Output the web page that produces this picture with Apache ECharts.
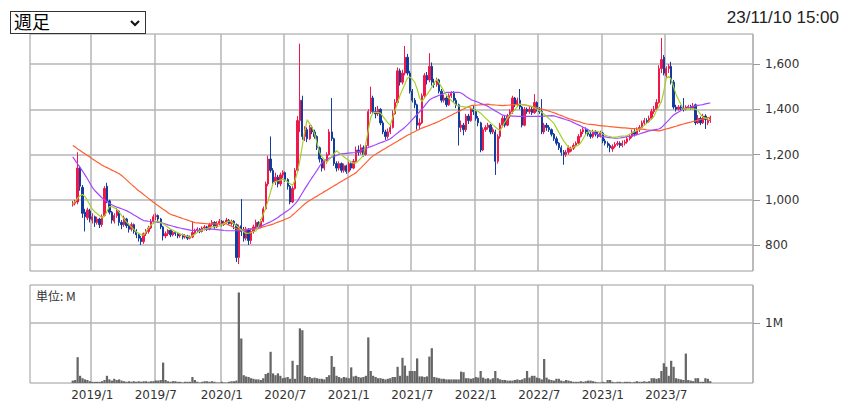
<!DOCTYPE html>
<html>
<head>
<meta charset="utf-8">
<script src="https://cdn.jsdelivr.net/npm/echarts@6/dist/echarts.min.js"></script>
<style>
  html, body { margin:0; padding:0; background:#fff; }
  #wrap { position:relative; width:851px; height:401px; overflow:hidden; }
  #chart { position:absolute; left:0; top:0; width:851px; height:401px; }
  #period { position:absolute; left:10px; top:11px; width:136px; height:23px; box-sizing:border-box;
    border:1px solid #333; background:#fff; z-index:2; }
  #period span { position:absolute; left:3px; top:0; font-size:18px; line-height:19px;
    font-family:"Noto Sans CJK JP", sans-serif; color:#000; }
  #period svg { position:absolute; left:118px; top:6px; }
  #stamp { position:absolute; right:12px; top:8px; font-size:17px; font-family:"Liberation Sans", Arial, sans-serif;
    color:#222; z-index:2; }
</style>
</head>
<body>
<div id="wrap">
  <div id="chart"></div>
  <div id="period"><span>週足</span><svg width="12" height="10" viewBox="0 0 12 10"><polyline points="2,3 6,7 10,3" fill="none" stroke="#111" stroke-width="2"/></svg></div>
  <div id="stamp">23/11/10 15:00</div>
</div>
<script>
// ---- weekly candles, first week = week of 2018/11/05 ----
const opens = [
980,985,990,1140,1055,945,920,950,910,925,
900,915,890,930,1060,995,945,905,930,950,
900,890,915,885,870,890,860,845,830,815,
850,860,875,905,925,930,915,880,840,850,
865,845,855,850,840,845,835,840,830,835,
855,865,870,860,875,880,870,890,900,880,
895,905,890,900,910,895,905,890,745,885,
860,830,870,820,860,880,900,880,905,960,
1070,1180,1130,1080,1100,1070,1110,1120,1090,1060,
990,1050,1130,1350,1440,1280,1310,1270,1320,1300,
1280,1230,1180,1140,1170,1200,1300,1270,1160,1140,
1160,1130,1150,1125,1160,1140,1170,1220,1210,1230,
1200,1240,1390,1450,1390,1380,1400,1340,1300,1280,
1300,1320,1380,1430,1570,1520,1560,1630,1560,1480,
1440,1420,1330,1340,1460,1550,1530,1590,1520,1510,
1530,1480,1440,1450,1420,1460,1470,1440,1420,1320,
1330,1310,1370,1350,1400,1390,1360,1340,1220,1310,
1320,1330,1300,1300,1170,1280,1330,1360,1330,1370,
1390,1450,1420,1440,1410,1330,1400,1390,1400,1385,
1430,1400,1390,1300,1330,1320,1310,1290,1270,1250,
1230,1210,1200,1210,1215,1228,1240,1250,1280,1300,
1310,1300,1290,1280,1300,1290,1280,1295,1260,1250,
1240,1225,1235,1245,1250,1240,1250,1255,1270,1280,
1300,1290,1310,1320,1340,1350,1345,1360,1390,1400,
1430,1580,1630,1550,1580,1590,1520,1410,1400,1410,
1405,1400,1405,1412,1405,1420,1340,1360,1340,1370,
1340,1350];
const closes = [
985,990,1140,1060,940,925,955,915,925,900,
915,890,925,1050,995,945,910,930,950,900,
890,920,885,870,890,860,845,830,815,850,
860,875,905,925,930,915,880,840,850,865,
845,855,850,840,845,835,840,830,835,855,
865,870,860,875,880,870,890,900,880,895,
905,890,900,910,895,905,890,745,880,860,
830,870,820,860,880,900,880,905,960,1070,
1180,1130,1080,1100,1070,1110,1120,1090,1060,990,
1050,1130,1350,1440,1280,1310,1270,1320,1300,1280,
1230,1180,1140,1170,1200,1300,1270,1160,1140,1160,
1130,1150,1125,1160,1140,1170,1220,1210,1230,1200,
1240,1390,1450,1390,1380,1400,1340,1300,1280,1300,
1320,1380,1430,1570,1520,1560,1630,1560,1480,1440,
1420,1330,1340,1460,1550,1530,1590,1520,1510,1530,
1480,1440,1450,1420,1460,1470,1440,1420,1320,1330,
1310,1370,1350,1400,1390,1360,1340,1220,1310,1320,
1330,1300,1310,1170,1280,1330,1360,1330,1370,1390,
1450,1420,1440,1410,1330,1400,1390,1400,1385,1430,
1400,1390,1300,1330,1320,1310,1290,1270,1250,1230,
1210,1200,1210,1230,1228,1240,1250,1280,1300,1310,
1300,1290,1280,1300,1290,1280,1295,1260,1250,1240,
1230,1235,1245,1250,1240,1250,1255,1270,1280,1300,
1290,1310,1320,1340,1350,1345,1360,1390,1400,1430,
1580,1620,1560,1580,1590,1520,1410,1400,1410,1405,
1400,1410,1412,1405,1415,1340,1360,1340,1370,1355,
1350,1360];
const lows = [
970,975,980,1040,920,860,910,900,895,880,
890,875,880,925,985,935,895,895,920,885,
870,880,875,855,860,850,830,815,800,805,
840,850,870,895,910,900,870,820,830,840,
835,838,840,830,832,825,828,822,825,830,
848,855,852,855,865,862,865,882,872,875,
888,882,884,893,888,885,870,725,716,840,
815,820,800,805,850,870,870,875,900,955,
1060,1120,1070,1065,1055,1060,1095,1080,1045,980,
985,1045,1125,1300,1265,1260,1255,1265,1290,1270,
1220,1165,1125,1130,1160,1195,1260,1150,1125,1130,
1120,1120,1115,1120,1130,1135,1165,1195,1200,1190,
1195,1235,1380,1380,1360,1370,1330,1290,1265,1270,
1290,1315,1375,1425,1505,1510,1550,1550,1470,1430,
1405,1310,1310,1335,1450,1510,1520,1505,1495,1500,
1470,1430,1430,1410,1415,1450,1430,1405,1240,1300,
1285,1300,1335,1345,1375,1350,1325,1210,1215,1300,
1310,1290,1290,1110,1160,1270,1320,1320,1325,1360,
1380,1410,1410,1400,1320,1325,1380,1380,1375,1380,
1390,1380,1290,1290,1305,1300,1280,1260,1240,1220,
1195,1155,1190,1200,1210,1220,1232,1245,1275,1290,
1290,1280,1270,1272,1280,1272,1275,1250,1240,1230,
1210,1212,1228,1238,1230,1232,1240,1248,1262,1272,
1280,1285,1300,1315,1330,1335,1340,1355,1380,1395,
1425,1560,1550,1540,1560,1510,1400,1390,1395,1395,
1390,1395,1400,1398,1400,1330,1335,1330,1335,1313,
1330,1340];
const highs = [
995,1000,1210,1150,1065,960,965,960,940,930,
925,920,935,1060,1075,1000,950,940,965,955,
910,930,920,895,900,895,870,850,840,855,
870,885,915,935,940,935,920,885,860,870,
870,862,860,855,852,850,848,845,842,905,
872,878,875,882,888,885,898,910,905,905,
915,910,908,920,915,912,910,895,890,1003,
880,880,875,870,890,912,905,915,970,1080,
1195,1280,1140,1120,1110,1120,1130,1125,1095,1065,
1060,1140,1370,1690,1460,1325,1320,1330,1330,1310,
1285,1235,1185,1180,1210,1312,1450,1275,1170,1170,
1165,1160,1155,1168,1165,1180,1235,1240,1245,1240,
1250,1400,1500,1460,1410,1415,1405,1350,1310,1315,
1330,1395,1445,1585,1580,1575,1680,1645,1570,1490,
1450,1425,1360,1470,1560,1565,1648,1607,1535,1540,
1535,1490,1465,1460,1470,1480,1480,1450,1425,1350,
1340,1380,1380,1410,1415,1400,1370,1345,1320,1330,
1340,1335,1320,1310,1290,1340,1370,1372,1380,1400,
1460,1455,1452,1490,1415,1410,1408,1410,1410,1467,
1435,1410,1445,1340,1340,1330,1315,1295,1280,1255,
1240,1220,1220,1240,1235,1250,1258,1290,1312,1320,
1320,1308,1300,1310,1308,1300,1305,1300,1270,1258,
1248,1245,1255,1260,1258,1262,1265,1280,1290,1310,
1312,1320,1330,1350,1362,1360,1372,1402,1415,1445,
1595,1715,1640,1590,1600,1610,1530,1420,1418,1418,
1450,1418,1420,1420,1428,1425,1375,1368,1380,1378,
1365,1372];
// volume, millions of shares
const volumes = [
0.04,0.05,0.43,0.12,0.08,0.06,0.05,0.03,0.02,0.02,
0.02,0.02,0.03,0.05,0.12,0.06,0.04,0.07,0.05,0.06,
0.04,0.03,0.02,0.03,0.02,0.03,0.02,0.03,0.02,0.03,
0.03,0.02,0.03,0.03,0.04,0.04,0.05,0.34,0.05,0.03,
0.02,0.03,0.03,0.02,0.02,0.01,0.02,0.02,0.02,0.10,
0.05,0.02,0.01,0.02,0.03,0.03,0.02,0.03,0.02,0.01,
0.01,0.02,0.01,0.01,0.02,0.03,0.03,0.04,1.51,0.74,
0.13,0.11,0.10,0.08,0.07,0.06,0.06,0.05,0.08,0.15,
0.17,0.52,0.16,0.13,0.16,0.12,0.08,0.09,0.10,0.07,
0.37,0.07,0.30,0.91,0.88,0.12,0.10,0.10,0.08,0.09,
0.08,0.07,0.07,0.06,0.10,0.13,0.45,0.27,0.12,0.10,
0.08,0.10,0.09,0.08,0.26,0.11,0.12,0.10,0.09,0.10,
0.12,0.76,0.20,0.12,0.10,0.08,0.08,0.07,0.06,0.07,
0.08,0.10,0.10,0.27,0.12,0.42,0.29,0.12,0.20,0.20,
0.20,0.41,0.11,0.11,0.10,0.11,0.44,0.58,0.10,0.09,
0.08,0.07,0.07,0.06,0.06,0.06,0.06,0.06,0.06,0.19,
0.18,0.08,0.08,0.07,0.08,0.10,0.09,0.20,0.09,0.07,
0.08,0.06,0.08,0.20,0.08,0.06,0.05,0.05,0.04,0.04,
0.04,0.05,0.06,0.05,0.06,0.08,0.20,0.09,0.12,0.12,
0.09,0.08,0.06,0.40,0.09,0.06,0.05,0.04,0.07,0.07,
0.04,0.03,0.05,0.04,0.03,0.02,0.02,0.02,0.03,0.02,
0.03,0.04,0.04,0.03,0.02,0.01,0.01,0.02,0.01,0.05,
0.05,0.02,0.01,0.02,0.02,0.01,0.02,0.02,0.02,0.01,
0.02,0.03,0.02,0.02,0.03,0.02,0.03,0.08,0.08,0.07,
0.08,0.20,0.33,0.27,0.12,0.37,0.27,0.08,0.07,0.06,
0.05,0.49,0.05,0.04,0.03,0.08,0.08,0.02,0.02,0.08,
0.07,0.03];
// moving averages
const ma13 = [
981,993,1006,1018,1023,1014,997,978,959,947,
938,929,920,926,948,970,970,964,959,945,
930,916,901,890,880,869,858,852,846,843,
859,875,888,896,905,905,899,894,886,878,
870,865,859,854,849,845,841,838,834,841,
848,855,862,866,870,873,877,879,881,883,
884,889,895,900,906,903,894,885,876,867,
859,851,852,855,859,862,882,909,936,963,
997,1035,1073,1080,1084,1087,1091,1086,1079,1071,
1064,1086,1121,1175,1240,1305,1354,1337,1320,1292,
1251,1210,1191,1178,1166,1179,1191,1204,1217,1208,
1199,1190,1181,1174,1168,1162,1162,1173,1184,1195,
1251,1307,1364,1386,1386,1386,1383,1369,1354,1340,
1330,1363,1396,1430,1462,1487,1512,1538,1543,1534,
1520,1490,1450,1435,1450,1465,1480,1498,1516,1534,
1516,1498,1480,1462,1450,1439,1429,1418,1415,1413,
1412,1410,1409,1406,1400,1395,1390,1383,1372,1361,
1351,1340,1331,1322,1313,1307,1326,1345,1362,1374,
1386,1398,1412,1423,1421,1420,1418,1416,1412,1406,
1401,1395,1387,1378,1368,1359,1349,1338,1318,1298,
1279,1260,1246,1232,1226,1232,1237,1242,1252,1271,
1290,1299,1301,1303,1304,1302,1297,1291,1286,1282,
1279,1276,1277,1278,1280,1281,1282,1284,1290,1296,
1301,1307,1312,1320,1329,1338,1348,1357,1370,1395,
1412,1434,1480,1536,1546,1532,1499,1466,1443,1422,
1401,1402,1403,1402,1402,1401,1393,1379,1365,1361,
1357,1354];
const ma26 = [
1190,1174,1158,1143,1127,1110,1093,1074,1055,1041,
1030,1019,1008,1000,992,985,978,972,968,964,
960,956,952,946,940,933,927,920,914,908,
907,905,904,903,902,900,899,896,893,889,
886,883,880,877,875,872,870,868,866,864,
864,865,866,867,869,870,871,870,869,868,
867,866,864,863,863,863,863,863,863,863,
865,867,869,871,873,875,878,883,888,893,
898,903,908,915,922,930,937,945,952,960,
971,982,994,1012,1030,1048,1065,1082,1098,1114,
1130,1147,1163,1175,1179,1184,1188,1192,1196,1201,
1203,1204,1205,1206,1207,1208,1209,1213,1217,1222,
1226,1231,1235,1239,1243,1248,1252,1256,1260,1265,
1270,1278,1287,1295,1304,1312,1321,1331,1342,1354,
1366,1378,1389,1401,1414,1428,1441,1448,1453,1457,
1462,1466,1470,1475,1475,1475,1475,1475,1475,1472,
1465,1457,1450,1443,1439,1435,1431,1426,1422,1418,
1413,1406,1400,1393,1387,1380,1374,1372,1371,1371,
1370,1370,1369,1369,1369,1369,1369,1369,1369,1369,
1369,1369,1370,1370,1371,1371,1372,1371,1368,1364,
1361,1358,1354,1351,1347,1341,1336,1331,1326,1320,
1315,1310,1304,1299,1294,1288,1283,1279,1278,1276,
1275,1273,1272,1272,1273,1275,1277,1279,1281,1282,
1285,1288,1291,1295,1298,1301,1304,1307,1309,1311,
1313,1319,1330,1341,1352,1364,1375,1382,1388,1395,
1401,1404,1407,1409,1412,1415,1417,1419,1421,1424,
1426,1428];
const ma52 = [
1240,1233,1225,1218,1210,1203,1196,1189,1181,1174,
1167,1160,1153,1147,1142,1137,1131,1126,1121,1115,
1107,1098,1088,1078,1068,1059,1049,1040,1032,1023,
1015,1006,998,989,981,974,966,958,951,943,
936,932,929,925,921,917,914,910,906,902,
899,898,897,896,895,894,893,893,893,893,
893,893,893,893,888,883,877,872,867,868,
868,869,869,870,870,871,873,876,880,883,
886,889,892,897,901,905,909,914,918,923,
933,942,952,962,972,981,990,997,1003,1010,
1016,1023,1029,1036,1042,1049,1055,1062,1068,1075,
1081,1087,1094,1100,1107,1113,1120,1131,1141,1152,
1163,1174,1185,1195,1201,1208,1214,1221,1227,1234,
1240,1247,1253,1259,1266,1272,1279,1285,1290,1296,
1301,1307,1312,1317,1321,1325,1329,1334,1338,1342,
1347,1353,1358,1363,1369,1374,1380,1385,1391,1396,
1401,1407,1412,1416,1417,1418,1419,1420,1421,1422,
1423,1421,1420,1419,1418,1417,1416,1417,1418,1419,
1420,1421,1422,1423,1421,1419,1417,1414,1412,1410,
1408,1404,1401,1398,1395,1392,1388,1385,1381,1376,
1372,1368,1363,1359,1356,1352,1349,1346,1343,1339,
1336,1334,1333,1332,1331,1329,1328,1327,1326,1325,
1323,1322,1321,1320,1319,1318,1318,1317,1316,1315,
1315,1314,1313,1312,1311,1309,1308,1307,1307,1306,
1305,1307,1310,1313,1316,1319,1322,1325,1329,1332,
1335,1338,1341,1343,1346,1349,1352,1355,1357,1360,
1362,1365];
const priceTicks = [800, 1000, 1200, 1400, 1600];
const volumeTicks = [1];
const firstWeek = '2018-11-05';

// ---- categories: first trading day of each week ----
const PAD_L = 17, PAD_R = 17;
const nW = closes.length;
const weekDates = [];
for (let i = 0; i < nW; i++) {
  const d = new Date(firstWeek + 'T00:00:00Z');
  d.setUTCDate(d.getUTCDate() + 7 * i);
  const m = d.getUTCMonth(), day = d.getUTCDate();
  if (m === 11 && day === 31) { d.setUTCDate(d.getUTCDate() + 4); }
  else if (m === 0 && day <= 3) { d.setUTCDate(4); }
  weekDates.push(d);
}
const cats = [], marks = [], labelTxt = [];
for (let k = 0; k < PAD_L; k++) { cats.push('L' + k); marks.push(false); labelTxt.push(''); }
for (let i = 0; i < nW; i++) {
  const d = weekDates[i];
  const m = d.getUTCMonth() + 1;
  const prevM = i > 0 ? weekDates[i - 1].getUTCMonth() + 1 : m;
  const isMark = i > 0 && m !== prevM && (m === 1 || m === 7);
  cats.push(d.toISOString().slice(0, 10));
  marks.push(isMark);
  labelTxt.push(d.getUTCFullYear() + '/' + m);
}
for (let k = 0; k < PAD_R; k++) { cats.push('R' + k); marks.push(false); labelTxt.push(''); }

const pad = (arr, f) => Array(PAD_L).fill('-').concat(arr.map(f)).concat(Array(PAD_R).fill('-'));
const candleData = pad(closes, (c, i) => [opens[i], c, lows[i], highs[i]]);
const volData = pad(volumes, v => v);
const m13 = pad(ma13, v => v), m26 = pad(ma26, v => v), m52 = pad(ma52, v => v);

const gridLine = { show: true, lineStyle: { color: '#b4b4b4', width: 1.5 } };
const markFn = (idx) => marks[idx];

const chart = echarts.init(document.getElementById('chart'), null, { renderer: 'svg', width: 851, height: 401 });
chart.setOption({
  animation: false,
  backgroundColor: '#fff',
  textStyle: { fontFamily: 'DejaVu Sans' },
  grid: [
    { left: 30, right: 98, top: 34, height: 237, show: true, borderColor: '#9a9a9a', borderWidth: 1, backgroundColor: 'transparent' },
    { left: 30, right: 98, top: 285, height: 98, show: true, borderColor: '#9a9a9a', borderWidth: 1, backgroundColor: 'transparent' }
  ],
  graphic: [{
    type: 'text', left: 36, top: 289, z: 10,
    style: { text: '単位: M', fill: '#333', font: '12px "Noto Sans CJK JP", sans-serif' }
  }],
  xAxis: [
    { type: 'category', gridIndex: 0, data: cats, boundaryGap: true,
      axisLine: { show: false }, axisTick: { show: false }, axisLabel: { show: false },
      splitLine: Object.assign({ interval: markFn }, gridLine) },
    { type: 'category', gridIndex: 1, data: cats, boundaryGap: true,
      axisLine: { show: false }, axisTick: { show: false },
      axisLabel: { show: true, interval: markFn, formatter: (v, idx) => labelTxt[idx],
        color: '#333', fontSize: 12, fontFamily: 'DejaVu Sans', margin: 6 },
      splitLine: Object.assign({ interval: markFn }, gridLine) }
  ],
  yAxis: [
    { type: 'value', gridIndex: 0, position: 'right', min: 685, max: 1733, splitNumber: 5,
      axisLine: { show: false },
      axisTick: { show: true, length: 7, customValues: priceTicks, lineStyle: { color: '#9a9a9a' } },
      axisLabel: { customValues: priceTicks, formatter: v => Number(v).toLocaleString('en-US'),
        color: '#333', fontSize: 12, fontFamily: 'DejaVu Sans', margin: 12 },
      splitLine: gridLine },
    { type: 'value', gridIndex: 1, position: 'right', min: 0, max: 1.633, interval: 1,
      axisLine: { show: false },
      axisTick: { show: true, length: 7, customValues: volumeTicks, lineStyle: { color: '#9a9a9a' } },
      axisLabel: { customValues: volumeTicks, formatter: v => (v === 1 ? '1M' : ''),
        color: '#333', fontSize: 12, fontFamily: 'DejaVu Sans', margin: 12 },
      splitLine: gridLine }
  ],
  series: [
    { type: 'candlestick', xAxisIndex: 0, yAxisIndex: 0, data: candleData, barWidth: 1.8,
      itemStyle: { color: '#f0184a', color0: '#123c9e', borderColor: '#f0184a', borderColor0: '#123c9e', borderWidth: 1 } },
    { type: 'line', xAxisIndex: 0, yAxisIndex: 0, data: m52, showSymbol: false, symbol: 'none',
      lineStyle: { color: '#ff5f2e', width: 1.2 }, z: 3 },
    { type: 'line', xAxisIndex: 0, yAxisIndex: 0, data: m26, showSymbol: false, symbol: 'none',
      lineStyle: { color: '#a445ff', width: 1.2 }, z: 3 },
    { type: 'line', xAxisIndex: 0, yAxisIndex: 0, data: m13, showSymbol: false, symbol: 'none',
      lineStyle: { color: '#a3d12c', width: 1.2 }, z: 3 },
    { type: 'bar', xAxisIndex: 1, yAxisIndex: 1, data: volData, barCategoryGap: '8%',
      itemStyle: { color: '#666' } }
  ]
});
</script>
</body>
</html>
